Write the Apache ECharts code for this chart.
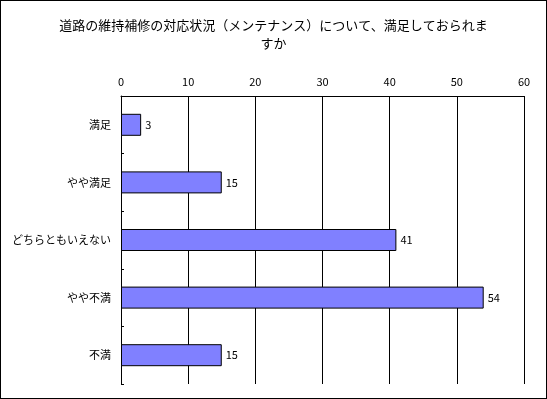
<!DOCTYPE html>
<html>
<head>
<meta charset="utf-8">
<script src="https://cdn.jsdelivr.net/npm/echarts@6/dist/echarts.min.js"></script>
<style>
  html, body { margin: 0; padding: 0; background: #fff; }
  #chart { width: 547px; height: 399px; box-sizing: border-box; border: 1px solid #000; }
</style>
</head>
<body>
<div id="chart"></div>
<script>
const titleText = '道路の維持補修の対応状況（メンテナンス）について、満足しておられま\nすか';
const categories = ['満足', 'やや満足', 'どちらともいえない', 'やや不満', '不満'];
const values = [3, 15, 41, 54, 15];
const xTicks = [0, 10, 20, 30, 40, 50, 60];

const font = '"Noto Sans CJK JP", "Noto Sans", sans-serif';
const chart = echarts.init(document.getElementById('chart'));
chart.setOption({
  animation: false,
  title: {
    text: titleText,
    left: 'center',
    top: 10,
    textStyle: { fontFamily: font, fontSize: 13, fontWeight: 'normal', color: '#000', lineHeight: 18, align: 'center' }
  },
  grid: { left: 120, right: 22, top: 95, bottom: 14 },
  xAxis: {
    type: 'value',
    position: 'top',
    min: xTicks[0],
    max: xTicks[xTicks.length - 1],
    interval: 10,
    axisLine: { show: true, lineStyle: { color: '#000', width: 1 } },
    axisTick: { show: false },
    axisLabel: { color: '#000', fontFamily: font, fontSize: 11, margin: 9 },
    splitLine: { show: true, lineStyle: { color: '#000', width: 1 } }
  },
  yAxis: {
    type: 'category',
    inverse: true,
    data: categories,
    axisLine: { show: true, lineStyle: { color: '#000', width: 1 } },
    axisTick: { show: true, inside: true, length: 3, lineStyle: { color: '#000' } },
    axisLabel: { color: '#000', fontFamily: font, fontSize: 11, margin: 10 }
  },
  series: [{
    type: 'bar',
    data: values,
    barWidth: 22,
    itemStyle: { color: '#8080ff', borderColor: '#000', borderWidth: 1 },
    label: { show: true, position: 'right', distance: 4, color: '#000', fontFamily: font, fontSize: 11 }
  }]
});
</script>
</body>
</html>
